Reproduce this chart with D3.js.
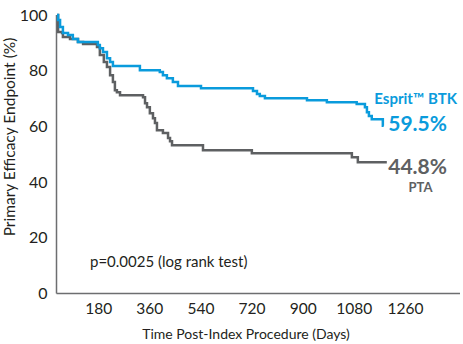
<!DOCTYPE html>
<html>
<head>
<meta charset="utf-8">
<script src="https://cdn.jsdelivr.net/npm/d3@7"></script>
<style>
  body { margin: 0; background: #fff; }
  svg { font-family: Lato, sans-serif; }
</style>
</head>
<body>
<div id="chart"></div>
<script>
// Kaplan-Meier steps (days, % free of events)
const espritDays = [35, 39, 46, 56, 74, 91, 109, 179, 186, 197, 211, 222, 232, 327, 397, 408, 422, 443, 461, 542, 725, 739, 749, 767, 915, 985, 1090, 1119, 1126, 1133, 1143, 1182, 1185];
const espritSurv = [100, 98.2, 95.7, 93.5, 92.8, 91.4, 90.3, 89.2, 88.1, 86.7, 84.5, 83.1, 81.7, 80.2, 79.5, 78.4, 77.3, 75.9, 74.5, 73.7, 72.7, 71.6, 70.9, 70.1, 69.4, 68.7, 68.0, 66.9, 65.1, 63.7, 62.6, 60.2, 60.2];

const ptaDays = [35, 39, 53, 56, 81, 109, 127, 176, 186, 200, 211, 222, 232, 239, 246, 257, 338, 345, 352, 362, 373, 380, 387, 408, 426, 433, 440, 549, 721, 1073, 1094, 1196];
const ptaSurv = [100, 93.9, 93.5, 92.1, 91.4, 90.3, 89.6, 88.5, 85.6, 83.1, 81.3, 78.4, 75.9, 73.0, 72.3, 71.2, 70.5, 68.3, 66.9, 64.7, 62.9, 61.2, 58.6, 57.6, 55.8, 54.7, 53.2, 51.4, 50.4, 48.9, 47.1, 47.1];

const xTicks = [180, 360, 540, 720, 900, 1080, 1260];
const yTicks = [0, 20, 40, 60, 80, 100];

const blue = '#0a9bdc',
      gray = '#5e6062',
      ink  = '#231f20';

const width = 463, height = 344;

const svg = d3.select('#chart').append('svg')
  .attr('width', width)
  .attr('height', height);

const x = d3.scaleLinear().domain([0, 1260]).range([47, 405]);
const y = d3.scaleLinear().domain([0, 100]).range([293.5, 15]);

const plotLeft = 56.5, plotRight = 460;

// y axis
svg.append('g')
  .attr('transform', `translate(${plotLeft},0)`)
  .call(d3.axisLeft(y).tickValues(yTicks).tickSize(0).tickPadding(9).tickFormat(d3.format('d')))
  .call(g => g.select('.domain').remove())
  .selectAll('text')
    .attr('font-size', '16px')
    .attr('font-family', 'Lato, sans-serif')
    .attr('fill', ink);

// x axis
svg.append('g')
  .attr('transform', `translate(0,${y(0)})`)
  .call(d3.axisBottom(x).tickValues(xTicks).tickSize(0).tickPadding(9).tickFormat(d3.format('d')))
  .call(g => g.select('.domain').remove())
  .selectAll('text')
    .attr('font-size', '15.5px')
    .attr('font-family', 'Lato, sans-serif')
    .attr('fill', ink);

svg.append('line')
  .attr('x1', plotLeft).attr('x2', plotLeft)
  .attr('y1', y(100)).attr('y2', y(0))
  .attr('stroke', '#6d6e70').attr('stroke-width', 1.5);

svg.append('line')
  .attr('x1', plotLeft).attr('x2', plotRight)
  .attr('y1', y(0)).attr('y2', y(0))
  .attr('stroke', '#6d6e70').attr('stroke-width', 1.5);

const line = d3.line()
  .x(d => Math.max(x(d[0]), plotLeft + 0.5))
  .y(d => y(d[1]))
  .curve(d3.curveStepAfter);

const pta = d3.zip(ptaDays, ptaSurv),
      esprit = d3.zip(espritDays, espritSurv);

svg.append('path')
  .datum(pta)
  .attr('d', line)
  .attr('fill', 'none')
  .attr('stroke', gray)
  .attr('stroke-width', 2.5);

svg.append('path')
  .datum(esprit)
  .attr('d', line)
  .attr('fill', 'none')
  .attr('stroke', blue)
  .attr('stroke-width', 2.5);

// end labels
svg.append('text')
  .attr('x', 457).attr('y', 103.5)
  .attr('text-anchor', 'end')
  .attr('font-size', '15px')
  .attr('font-weight', 700)
  .attr('fill', blue)
  .text('Esprit™ BTK');

svg.append('text')
  .attr('x', 447).attr('y', 130.5)
  .attr('text-anchor', 'end')
  .attr('font-size', '21px')
  .attr('font-weight', 700)
  .attr('fill', blue)
  .text('59.5%');

svg.append('text')
  .attr('x', 447).attr('y', 173.5)
  .attr('text-anchor', 'end')
  .attr('font-size', '21px')
  .attr('font-weight', 700)
  .attr('fill', gray)
  .text('44.8%');

svg.append('text')
  .attr('x', 420.5).attr('y', 192)
  .attr('text-anchor', 'middle')
  .attr('font-size', '13px')
  .attr('font-weight', 700)
  .attr('fill', gray)
  .text('PTA');

svg.append('text')
  .attr('x', 90).attr('y', 267)
  .attr('font-size', '15px')
  .attr('fill', ink)
  .text('p=0.0025 (log rank test)');

// axis titles
svg.append('text')
  .attr('x', 246).attr('y', 339)
  .attr('text-anchor', 'middle')
  .attr('font-size', '14px')
  .attr('fill', ink)
  .text('Time Post-Index Procedure (Days)');

svg.append('text')
  .attr('transform', 'translate(15,137) rotate(-90)')
  .attr('text-anchor', 'middle')
  .attr('font-size', '15.5px')
  .attr('fill', ink)
  .text('Primary Efficacy Endpoint (%)');
</script>
</body>
</html>
